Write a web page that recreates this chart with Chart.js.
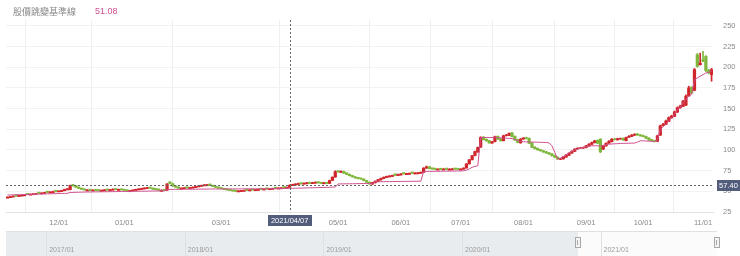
<!DOCTYPE html>
<html>
<head>
<meta charset="utf-8">
<script src="https://cdn.jsdelivr.net/npm/chart.js@4.4.1/dist/chart.umd.min.js"></script>
<style>
    html, body { margin: 0; padding: 0; background: #fff; }
    #wrap { width: 740px; height: 256px; }
</style>
</head>
<body>
<div id="wrap"><canvas id="myChart" width="740" height="256"></canvas></div>
<script>
// daily candles, 2020/11 -> 2021/11 (index = trading day)
const opens = [
    41.6, 42.4, 42.9, 45.6, 43.6, 44.1, 44.5, 47.4, 45.3, 45.8,
    46.1, 49.0, 46.8, 47.3, 50.2, 48.0, 48.4, 51.3, 49.2, 49.7,
    50.6, 51.6, 52.0, 58.0, 56.8, 55.2, 53.9, 53.0, 50.3, 52.6,
    50.3, 52.5, 52.2, 50.0, 50.5, 52.9, 50.9, 51.3, 53.4, 51.0,
    53.1, 52.5, 51.8, 49.5, 50.3, 51.0, 51.6, 52.2, 52.7, 53.2,
    55.2, 54.0, 53.4, 52.9, 49.9, 52.4, 51.2, 61.4, 59.0, 56.6,
    55.2, 52.5, 53.1, 55.5, 53.2, 53.7, 54.5, 55.2, 55.9, 56.5,
    56.6, 58.8, 57.4, 56.3, 55.3, 54.5, 53.7, 52.9, 52.3, 51.7,
    51.5, 49.2, 49.6, 49.9, 52.8, 50.4, 53.0, 50.7, 51.0, 53.8,
    51.5, 54.3, 51.9, 52.2, 55.0, 52.7, 53.0, 55.9, 53.6, 54.9,
    56.8, 57.5, 58.2, 60.4, 58.5, 59.0, 61.0, 59.2, 59.7, 61.6,
    61.0, 59.0, 60.9, 59.6, 63.2, 67.2, 74.9, 72.8, 74.0, 72.2,
    70.6, 69.0, 67.6, 66.9, 66.2, 64.8, 62.9, 61.0, 58.7, 60.3,
    62.0, 63.8, 65.4, 66.6, 67.2, 67.8, 71.2, 68.9, 69.6, 72.6,
    70.1, 70.4, 73.4, 70.8, 71.1, 71.6, 72.8, 78.1, 79.6, 78.4,
    78.0, 75.5, 77.9, 75.6, 78.1, 75.5, 75.8, 78.2, 77.9, 75.5,
    76.8, 78.2, 83.2, 88.1, 93.2, 97.5, 103.5, 115.5, 112.8, 111.2,
    108.3, 110.0, 116.4, 113.4, 111.2, 117.2, 117.6, 120.5, 116.3, 112.5,
    108.5, 113.2, 114.8, 114.0, 108.5, 103.4, 101.8, 100.2, 99.0, 97.8,
    96.5, 95.2, 93.2, 91.2, 88.6, 89.2, 91.3, 93.6, 96.2, 98.3,
    101.3, 102.3, 102.2, 102.8, 104.8, 106.8, 108.8, 111.5, 113.0, 101.0,
    104.8, 108.2, 110.0, 113.3, 112.2, 113.2, 114.0, 111.2, 115.3, 116.3,
    117.8, 119.3, 118.2, 117.3, 116.2, 114.3, 112.4, 111.2, 110.5, 117.8,
    129.5, 130.8, 134.5, 138.8, 140.6, 145.6, 150.8, 152.6, 154.0, 165.3,
    175.5, 172.0, 215.0, 203.0, 209.0, 213.0, 196.0, 191.0
]
const highs = [
    43.3, 43.9, 44.4, 44.8, 45.2, 45.6, 46.1, 46.7, 46.9, 47.3,
    47.7, 48.2, 48.3, 48.9, 49.2, 49.6, 50.2, 50.3, 50.7, 51.3,
    52.6, 53.4, 57.6, 58.4, 56.9, 55.2, 53.8, 52.8, 52.2, 51.9,
    51.9, 51.8, 51.6, 51.6, 52.1, 52.2, 52.5, 52.9, 53.0, 52.7,
    52.6, 52.3, 51.5, 51.2, 51.9, 52.6, 53.2, 53.8, 54.3, 54.8,
    54.9, 54.0, 53.0, 52.4, 51.9, 51.6, 59.4, 61.6, 59.8, 56.7,
    55.5, 54.2, 54.7, 54.9, 54.8, 55.3, 56.1, 56.8, 57.5, 58.1,
    58.5, 58.6, 57.4, 56.1, 55.1, 54.2, 53.4, 52.6, 51.8, 51.2,
    50.9, 50.8, 51.2, 51.5, 51.8, 52.0, 52.2, 52.3, 52.6, 52.8,
    53.1, 53.3, 53.5, 53.8, 54.0, 54.3, 54.6, 54.9, 55.2, 57.8,
    58.6, 59.2, 59.9, 59.9, 60.2, 60.8, 60.8, 60.9, 61.4, 61.5,
    60.6, 60.8, 60.8, 63.5, 67.6, 74.8, 75.2, 74.8, 74.4, 72.6,
    70.9, 69.4, 67.8, 66.5, 65.8, 65.1, 63.3, 61.3, 60.9, 62.6,
    64.4, 65.9, 67.4, 68.4, 69.0, 69.6, 70.2, 70.7, 71.4, 71.6,
    71.9, 72.2, 72.4, 72.6, 72.9, 73.4, 78.6, 80.6, 80.0, 78.0,
    77.4, 77.3, 77.4, 77.4, 77.5, 77.3, 77.6, 77.7, 77.3, 77.3,
    78.5, 83.6, 88.6, 93.6, 98.6, 103.6, 116.0, 116.2, 113.4, 111.8,
    110.5, 116.8, 117.0, 114.0, 117.8, 118.8, 120.8, 121.2, 117.0, 113.0,
    113.8, 115.0, 115.5, 114.6, 109.0, 104.0, 102.4, 100.8, 99.6, 98.4,
    97.0, 95.8, 93.8, 91.8, 90.0, 92.2, 94.4, 96.6, 99.0, 101.6,
    102.8, 103.2, 103.6, 105.6, 107.6, 109.6, 111.6, 112.2, 113.6, 105.8,
    108.6, 111.2, 113.8, 114.0, 114.2, 114.4, 114.6, 115.6, 117.2, 118.6,
    119.6, 120.0, 118.8, 117.9, 116.8, 114.8, 113.0, 111.8, 117.8, 130.0,
    132.0, 136.0, 140.0, 142.0, 147.0, 152.0, 154.0, 160.0, 166.5, 177.0,
    176.5, 198.5, 216.5, 217.0, 219.0, 214.0, 197.5, 198.5
]
const lows = [
    42.3, 42.9, 43.5, 43.9, 44.3, 44.7, 45.2, 45.9, 46.0, 46.4,
    46.7, 47.4, 47.4, 47.9, 48.3, 48.7, 49.3, 49.4, 49.8, 50.2,
    50.9, 52.1, 51.7, 56.1, 54.7, 53.3, 52.1, 51.4, 51.2, 50.9,
    50.7, 50.8, 50.6, 50.5, 51.0, 51.2, 51.3, 51.8, 51.7, 51.6,
    51.5, 50.9, 50.1, 50.1, 50.7, 51.3, 51.9, 52.6, 53.1, 53.6,
    53.5, 52.3, 51.7, 51.2, 50.9, 50.7, 51.2, 59.0, 56.0, 54.7,
    53.4, 53.3, 53.6, 53.8, 53.7, 54.3, 54.9, 55.7, 56.5, 57.0,
    57.1, 56.9, 55.6, 54.6, 53.7, 52.9, 52.1, 51.3, 50.7, 50.1,
    49.8, 49.8, 50.1, 50.5, 50.7, 51.0, 51.3, 51.3, 51.7, 51.9,
    52.2, 52.4, 52.6, 52.8, 53.1, 53.3, 53.7, 53.9, 54.2, 54.6,
    57.3, 57.7, 58.4, 58.7, 58.8, 59.4, 59.3, 59.3, 60.1, 59.9,
    59.3, 59.4, 59.2, 59.3, 62.9, 66.9, 73.0, 73.1, 71.6, 70.0,
    68.5, 67.1, 65.8, 65.1, 64.5, 62.6, 60.6, 58.5, 58.4, 60.0,
    61.7, 63.5, 65.1, 66.8, 67.9, 68.4, 68.8, 69.6, 69.9, 70.7,
    70.8, 71.1, 71.4, 71.8, 71.8, 72.1, 72.5, 77.6, 77.1, 76.6,
    76.2, 76.1, 76.2, 76.2, 76.4, 76.2, 76.5, 76.5, 76.2, 76.1,
    76.5, 77.9, 82.9, 87.8, 92.9, 97.0, 103.0, 112.0, 110.4, 108.0,
    107.8, 109.6, 112.6, 110.6, 110.8, 116.8, 117.2, 115.6, 111.6, 108.6,
    108.1, 112.8, 113.2, 107.5, 102.6, 101.0, 99.6, 98.4, 97.0, 95.8,
    94.6, 92.6, 90.6, 88.6, 88.2, 88.8, 91.0, 93.2, 95.8, 98.0,
    100.8, 101.8, 101.8, 102.4, 104.4, 106.4, 108.4, 107.6, 96.8, 100.4,
    104.4, 107.8, 109.6, 112.0, 111.8, 112.8, 111.6, 110.8, 115.0, 116.0,
    117.4, 117.6, 116.6, 115.6, 113.6, 111.6, 110.6, 109.6, 110.0, 117.4,
    129.0, 130.4, 134.0, 138.4, 140.2, 145.2, 150.4, 152.2, 153.6, 165.0,
    168.0, 171.5, 200.0, 202.5, 206.5, 194.5, 192.0, 183.0
]
const closes = [
    43.0, 43.6, 44.1, 44.5, 44.9, 45.3, 45.8, 46.2, 46.6, 47.0,
    47.4, 47.7, 48.0, 48.6, 48.9, 49.3, 49.6, 50.0, 50.4, 51.0,
    52.2, 53.0, 57.0, 56.6, 55.0, 53.6, 52.4, 51.7, 51.5, 51.2,
    51.6, 51.1, 50.9, 51.3, 51.8, 51.5, 52.2, 52.6, 52.0, 52.4,
    51.8, 51.2, 50.4, 50.9, 51.6, 52.3, 52.9, 53.5, 54.0, 54.5,
    53.8, 52.6, 52.0, 51.5, 51.2, 51.0, 58.9, 59.6, 56.4, 55.0,
    53.7, 53.9, 54.4, 54.1, 54.5, 55.0, 55.8, 56.5, 57.2, 57.8,
    58.0, 57.2, 55.9, 54.9, 54.0, 53.2, 52.4, 51.6, 51.0, 50.4,
    50.1, 50.5, 50.9, 51.2, 51.5, 51.7, 51.6, 52.0, 52.3, 52.5,
    52.8, 53.0, 53.2, 53.5, 53.7, 54.0, 54.3, 54.6, 54.9, 57.4,
    58.2, 58.8, 59.5, 59.0, 59.8, 60.3, 59.6, 60.5, 61.0, 60.2,
    59.6, 60.4, 59.5, 63.0, 67.0, 73.7, 73.5, 74.2, 72.0, 70.4,
    68.9, 67.5, 66.2, 65.5, 64.9, 63.0, 61.0, 58.9, 60.5, 62.2,
    64.0, 65.5, 67.0, 68.0, 68.6, 69.2, 69.8, 70.3, 71.0, 71.2,
    71.5, 71.8, 72.0, 72.2, 72.5, 73.0, 78.0, 79.5, 77.5, 77.0,
    76.6, 76.9, 76.5, 77.0, 76.7, 76.9, 77.2, 76.8, 76.5, 76.9,
    78.0, 83.0, 88.0, 93.0, 98.0, 103.0, 115.0, 112.5, 111.0, 108.5,
    109.8, 116.0, 113.0, 111.0, 117.0, 118.0, 120.0, 116.0, 112.0, 109.0,
    113.0, 114.5, 113.8, 108.0, 103.0, 101.5, 100.0, 98.9, 97.5, 96.2,
    95.0, 93.0, 91.0, 89.0, 89.0, 91.5, 93.8, 96.0, 98.5, 101.0,
    102.0, 102.5, 103.0, 105.0, 107.0, 109.0, 111.0, 108.0, 97.7, 105.0,
    108.0, 110.5, 113.0, 112.5, 113.5, 113.8, 112.0, 115.0, 116.5, 118.0,
    119.0, 118.0, 117.0, 116.0, 114.0, 112.0, 111.0, 110.0, 117.0, 129.0,
    131.0, 135.0, 139.0, 141.0, 146.0, 151.0, 153.0, 159.0, 165.0, 175.0,
    169.0, 197.0, 201.0, 205.0, 207.0, 196.0, 193.0, 197.0
]
// 股價跳變基準線 (pink line)
const baseLine = [
    45.5, 45.6, 45.7, 45.8, 45.9, 46.0, 46.1, 46.2, 46.3, 46.4,
    46.5, 46.6, 46.7, 46.8, 46.9, 47.0, 47.1, 47.2, 47.3, 47.4,
    47.5, 47.6, 48.6, 48.7, 48.8, 48.9, 49.0, 49.1, 49.2, 49.2,
    49.3, 49.3, 49.4, 49.4, 49.5, 49.5, 49.6, 49.6, 49.7, 49.7,
    49.8, 49.8, 49.9, 49.9, 50.0, 50.0, 50.1, 50.1, 50.2, 50.2,
    50.3, 50.3, 50.4, 50.4, 50.5, 50.5, 52.2, 52.3, 52.3, 52.4,
    52.4, 52.4, 52.5, 52.5, 52.5, 52.6, 52.6, 52.6, 52.7, 52.7,
    52.7, 52.8, 52.8, 52.8, 52.8, 52.8, 52.8, 52.9, 52.9, 52.9,
    52.9, 52.9, 52.9, 53.0, 53.0, 53.0, 53.0, 53.0, 53.1, 53.1,
    53.1, 53.1, 53.2, 53.2, 53.2, 53.3, 53.3, 53.4, 53.4, 53.5,
    53.6, 53.7, 53.8, 53.9, 54.0, 54.1, 54.2, 54.3, 54.4, 54.5,
    54.6, 54.7, 54.8, 54.9, 55.0, 55.2, 58.9, 59.0, 59.0, 59.1,
    59.1, 59.2, 59.2, 59.3, 59.3, 59.4, 59.4, 59.4, 59.5, 61.5,
    61.5, 61.6, 61.6, 61.7, 61.7, 61.8, 61.8, 61.9, 61.9, 62.0,
    62.0, 62.0, 62.1, 62.1, 62.2, 62.2, 74.0, 74.0, 74.1, 74.1,
    74.2, 74.2, 74.3, 74.3, 74.4, 74.4, 74.5, 74.5, 74.6, 74.6,
    74.8, 75.5, 77.0, 79.0, 80.0, 81.0, 115.0, 115.0, 115.0, 115.0,
    115.0, 115.0, 114.8, 114.6, 114.4, 114.2, 114.0, 113.8, 112.5, 111.5,
    110.5, 110.0, 109.8, 109.6, 109.5, 109.4, 109.3, 109.2, 109.1, 109.0,
    108.5, 105.0, 97.0, 89.0, 90.0, 92.0, 94.0, 96.5, 98.5, 100.0,
    101.0, 102.0, 103.0, 104.0, 104.5, 105.0, 105.0, 105.0, 105.0, 105.2,
    106.0, 107.0, 107.2, 107.4, 107.6, 107.8, 108.0, 108.0, 108.1, 108.2,
    108.3, 109.5, 111.0, 111.0, 110.8, 110.6, 110.4, 110.2, 112.0, 125.0,
    128.0, 131.0, 135.0, 139.0, 143.0, 149.0, 151.0, 157.0, 161.0, 165.0,
    167.0, 185.0, 187.0, 189.0, 191.0, 193.0, 194.0, 195.0
]

const tickIndex = [18, 41, 75, 116, 138, 159, 181, 203, 223, 244]
const tickLabels = ['12/01', '01/01', '03/01', '05/01', '06/01', '07/01', '08/01', '09/01', '10/01', '11/01']
const yTicks = [25, 50, 75, 100, 125, 150, 175, 200, 225, 250]

const crossIndex = 99
const crossDate = '2021/04/07'
const baseName = '股價跳變基準線'
const baseValue = 51.08

const navYears = ['2017/01', '2018/01', '2019/01', '2020/01', '2021/01']
const navYearValues = [2017, 2018, 2019, 2020, 2021]
const navRange = [2016.71, 2021.84]
const navSelectFrom = 2020.837

const RED = '#d0262b'
const GREEN = '#7fb73d'
const PINK = '#cf4f8f'

const candleColors = closes.map((c, i) => c >= opens[i] ? RED : GREEN)

const overlay = {
    id: 'overlay',
    afterDatasetsDraw(chart) {
        const { ctx, chartArea, scales } = chart
        const cx = Math.round(scales.x.getPixelForValue(crossIndex)) + 0.5
        const cy = Math.round(scales.y.getPixelForValue(closes[crossIndex])) + 0.5
        ctx.save()
        ctx.strokeStyle = '#666'
        ctx.lineWidth = 1
        ctx.setLineDash([2, 2])
        ctx.beginPath()
        ctx.moveTo(cx, chartArea.top)
        ctx.lineTo(cx, chartArea.bottom)
        ctx.moveTo(chartArea.left, cy)
        ctx.lineTo(chartArea.right, cy)
        ctx.stroke()
        ctx.restore()
    },
    afterDraw(chart) {
        const { ctx, chartArea, scales } = chart
        const cx = scales.x.getPixelForValue(crossIndex)
        const cy = scales.y.getPixelForValue(closes[crossIndex])
        ctx.save()

        // header
        ctx.textBaseline = 'middle'
        ctx.font = '9px "Noto Sans CJK TC"'
        ctx.fillStyle = '#888'
        ctx.fillText(baseName, 13, 12)
        ctx.font = '9px "Liberation Sans"'
        ctx.fillStyle = PINK
        ctx.fillText(baseValue.toFixed(2), 95, 12)

        // crosshair label boxes
        ctx.font = '7.5px "Liberation Sans"'
        ctx.textAlign = 'center'
        ctx.fillStyle = '#525c7b'
        ctx.fillRect(Math.round(cx - 22), 215, 44, 11)
        ctx.fillRect(chartArea.right + 4, Math.round(cy - 5.5), 23, 11)
        ctx.fillStyle = '#fff'
        ctx.fillText(crossDate, cx, 221)
        ctx.fillText(closes[crossIndex].toFixed(2), chartArea.right + 15.5, cy + 0.5)

        // navigator
        const nTop = 231, nBottom = 256, nLeft = 6, nRight = 717
        const navX = v => nLeft + (v - navRange[0]) / (navRange[1] - navRange[0]) * (nRight - nLeft)
        const sel = Math.round(navX(navSelectFrom))
        ctx.fillStyle = '#e9ecef'
        ctx.fillRect(nLeft, nTop, sel - nLeft, nBottom - nTop)
        ctx.fillStyle = '#fbfbfb'
        ctx.fillRect(sel, nTop, nRight - sel, nBottom - nTop)
        ctx.strokeStyle = '#dde1e5'
        ctx.lineWidth = 1
        ctx.beginPath()
        ctx.moveTo(nLeft, nTop + 0.5)
        ctx.lineTo(nRight, nTop + 0.5)
        navYearValues.forEach(v => {
            const x = Math.round(navX(v)) + 0.5
            ctx.moveTo(x, nTop)
            ctx.lineTo(x, nBottom)
        })
        ctx.stroke()
        ctx.textAlign = 'left'
        ctx.font = '7px "Liberation Sans"'
        ctx.fillStyle = '#9a9a9a'
        navYears.forEach((t, i) => ctx.fillText(t, navX(navYearValues[i]) + 3, 250))

        // handles
        ;[sel, nRight].forEach(x => {
            ctx.fillStyle = '#f4f4f4'
            ctx.strokeStyle = '#a8a8a8'
            ctx.fillRect(x - 3, 237, 6, 11)
            ctx.strokeRect(x - 2.5, 237.5, 5, 10)
            ctx.beginPath()
            ctx.moveTo(x - 0.5, 240)
            ctx.lineTo(x - 0.5, 245)
            ctx.stroke()
        })
        ctx.restore()
    }
}

const config = {
    data: {
        datasets: [
            {
                type: 'line',
                data: baseLine.map((v, i) => ({ x: i, y: v })),
                borderColor: PINK,
                borderWidth: 1,
                pointRadius: 0,
                tension: 0,
                order: 0
            },
            {
                type: 'bar',
                data: opens.map((o, i) => ({ x: i, y: [o, closes[i]] })),
                backgroundColor: candleColors,
                barThickness: 2.6,
                grouped: false,
                order: 1
            },
            {
                type: 'bar',
                data: lows.map((l, i) => ({ x: i, y: [l, highs[i]] })),
                backgroundColor: candleColors,
                barThickness: 1,
                grouped: false,
                order: 2
            }
        ]
    },
    options: {
        responsive: false,
        animation: false,
        layout: { padding: { left: 6, top: 20, right: 0, bottom: 0 } },
        plugins: { legend: { display: false }, tooltip: { enabled: false } },
        scales: {
            x: {
                type: 'linear',
                min: -0.5,
                max: 247.5,
                offset: false,
                grid: { color: '#efefef', drawTicks: false },
                border: { color: '#e2e2e2' },
                afterBuildTicks: scale => { scale.ticks = tickIndex.map(v => ({ value: v })) },
                afterFit: scale => { scale.height = 44 },
                ticks: {
                    autoSkip: false,
                    maxRotation: 0,
                    padding: 6,
                    color: '#8a8a8a',
                    font: { family: 'Liberation Sans', size: 7.5 },
                    callback: v => tickLabels[tickIndex.indexOf(v)]
                }
            },
            y: {
                position: 'right',
                min: 25,
                max: 257,
                grid: { color: '#f2f2f2', drawTicks: false },
                border: { display: false },
                afterBuildTicks: scale => { scale.ticks = yTicks.map(v => ({ value: v })) },
                afterFit: scale => { scale.width = 27 },
                ticks: {
                    padding: 10,
                    color: '#8a8a8a',
                    font: { family: 'Liberation Sans', size: 7.5 }
                }
            }
        }
    },
    plugins: [overlay]
}

const chart = new Chart(document.getElementById('myChart'), config)
</script>
</body>
</html>
